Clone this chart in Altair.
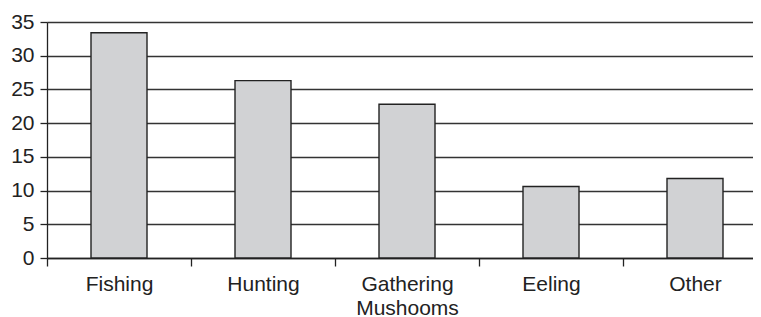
import altair as alt
import pandas as pd
import json

categories = ["Fishing", "Hunting", "Gathering Mushooms", "Eeling", "Other"]
values = [33.4, 26.3, 22.8, 10.6, 11.8]
y_ticks = [0, 5, 10, 15, 20, 25, 30, 35]

df = pd.DataFrame({
    "category": categories,
    "value": values,
    "pos": [i + 0.5 for i in range(len(categories))],
})

font = "Liberation Sans"
plot_w = 706
step = 144
label_lines = [c.split(" ") for c in categories]
label_expr = json.dumps(label_lines) + "[floor(datum.value)]"

xscale = alt.Scale(domain=[0, plot_w / step], nice=False, zero=False, padding=0)
yscale = alt.Scale(domain=[0, 35], nice=False, padding=0)

bars = alt.Chart(df).mark_bar(
    width=56, fill="#d1d2d4", stroke="#222222", strokeWidth=1.4
).encode(
    x=alt.X("pos:Q", title=None, scale=xscale,
            axis=alt.Axis(values=list(range(len(categories))), labels=False,
                          orient="bottom", tickSize=8, tickColor="#222222",
                          tickWidth=1.3, domainColor="#222222", domainWidth=1.3,
                          grid=False)),
    y=alt.Y("value:Q", title=None, scale=yscale,
            axis=alt.Axis(values=y_ticks, labelFont=font, labelFontSize=21,
                          labelColor="#222222", labelPadding=6,
                          tickSize=7, tickColor="#222222", tickWidth=1.3,
                          domainColor="#222222", domainWidth=1.3,
                          gridColor="#333333", gridWidth=1.3, gridOpacity=1)),
)

labels = alt.Chart(df).mark_tick(opacity=0).encode(
    x=alt.X("pos:Q", title=None, scale=xscale,
            axis=alt.Axis(values=df["pos"].tolist(), labelExpr=label_expr,
                          orient="bottom", ticks=False, domain=False, grid=False,
                          labelFont=font, labelFontSize=21, labelColor="#222222",
                          labelLineHeight=24, labelPadding=15, labelAngle=0,
                          labelFlush=False, labelOverlap=False)),
)

chart = alt.layer(bars, labels).resolve_axis(x="independent").properties(
    width=plot_w, height=236,
    autosize=alt.AutoSizeParams(type="none"),
    padding={"left": 39, "top": 14, "right": 0, "bottom": 60},
).configure_view(stroke=None).configure(background="white")

chart.save("out.html", embed_options={"renderer": "svg", "actions": False})
